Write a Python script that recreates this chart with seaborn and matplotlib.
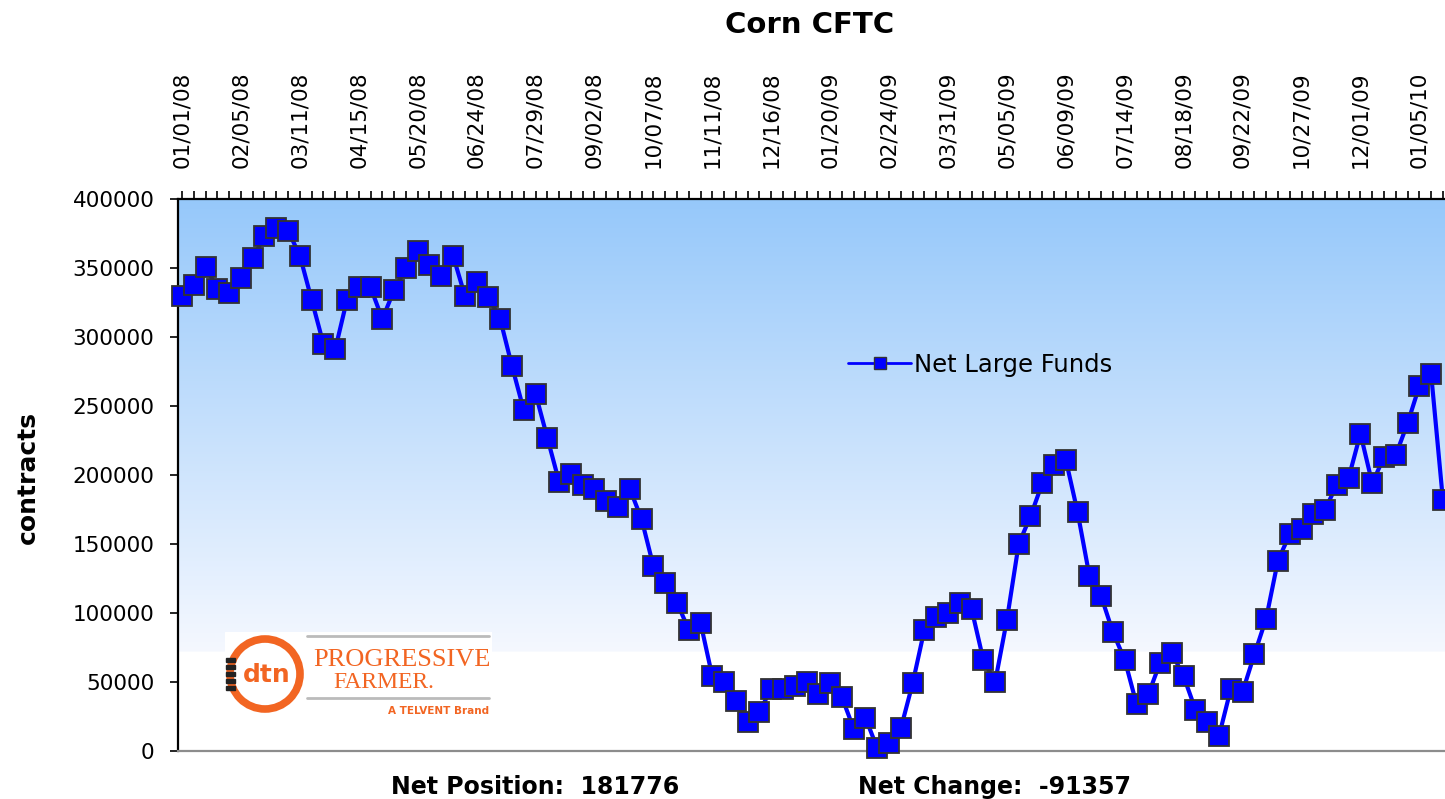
import numpy as np
import pandas as pd
import seaborn as sns
import matplotlib.pyplot as plt
from matplotlib.lines import Line2D
from matplotlib.patches import Circle, Rectangle

# weekly net large fund position, starting 01/01/08
start_date = "2008-01-01"
net_large_funds = [
    330000, 338000, 351000, 335000, 332000, 343000, 357000, 373000, 379000, 377000,
    359000, 327000, 295000, 291000, 327000, 336000, 336000, 313000, 334000, 350000,
    362000, 352000, 344000, 359000, 330000, 340000, 329000, 313000, 279000, 247000,
    259000, 227000, 195000, 201000, 193000, 190000, 181000, 177000, 190000, 168000,
    134000, 121500, 107500, 88000, 93000, 54000, 50000, 36000, 21000, 28500,
    45000, 45000, 47000, 50000, 41000, 49000, 39000, 16000, 24000, 2000,
    5600, 16400, 49000, 88000, 97000, 100000, 107500, 103000, 66000, 50000,
    95000, 150000, 170000, 194000, 207000, 211000, 173000, 127000, 112000, 86000,
    66000, 34000, 41000, 64000, 71000, 54000, 30000, 21000, 11000, 45000,
    43000, 70000, 96000, 138000, 157000, 161000, 172000, 175000, 193000, 198000,
    230000, 194000, 213000, 214500, 237500, 264500, 273133, 181776,
]
net_position = 181776
net_change = -91357

dates = pd.date_range(start_date, periods=len(net_large_funds), freq="7D")
df = pd.DataFrame({"week": np.arange(len(net_large_funds)), "net": net_large_funds})
tick_idx = list(range(0, len(dates), 5))
tick_labels = [dates[i].strftime("%m/%d/%y") for i in tick_idx]

sns.set_style("white")
plt.rcParams["font.family"] = ["DejaVu Sans"]
plt.rcParams["text.color"] = "black"
plt.rcParams["xtick.color"] = "black"
plt.rcParams["ytick.color"] = "black"
plt.rcParams["axes.labelcolor"] = "black"

W, H = 1445, 799
fig = plt.figure(figsize=(W / 100, H / 100), dpi=100)
ax = fig.add_axes([178 / W, (H - 751) / H, (1450 - 178) / W, (751 - 199) / H])

# background gradient: light blue at the top fading to white, plain white at the bottom
n = 400
frac = np.linspace(0, 1, n)
top = np.array([150, 200, 250]) / 255
low = np.array([245, 248, 255]) / 255
cut = 0.179
grad = np.ones((n, 1, 3))
for i, f in enumerate(frac):
    if f >= cut:
        t = (f - cut) / (1 - cut)
        grad[i, 0] = low + (top - low) * t
ax.imshow(grad, extent=[0, 1, 0, 1], transform=ax.transAxes, origin="lower",
          aspect="auto", zorder=0)

sns.lineplot(data=df, x="week", y="net", ax=ax, color="#0000FF", linewidth=3,
             marker="s", markersize=14, markerfacecolor="#0000FF",
             markeredgecolor="#333333", markeredgewidth=1.3, legend=False,
             zorder=3, clip_on=False)

ax.set_xlim(-0.34, len(net_large_funds) - 1 + 0.6)
ax.set_ylim(0, 400000)
ax.set_yticks(np.arange(0, 400001, 50000))
ax.set_yticklabels([str(v) for v in range(0, 400001, 50000)])
ax.xaxis.tick_top()
ax.set_xticks(tick_idx)
ax.set_xticklabels(tick_labels, rotation=90)
ax.set_xticks(np.arange(len(dates)), minor=True)
ax.tick_params(axis="x", which="both", direction="out", length=6, width=1.2,
               color="black", labelcolor="black", pad=16, labelsize=15.5)
ax.tick_params(axis="y", direction="out", length=6, width=1.2, color="black",
               labelcolor="black", pad=11, labelsize=15.5, left=True)
ax.set_xlabel("")
ax.set_ylabel("")

for side in ["top", "left"]:
    ax.spines[side].set_color("black")
    ax.spines[side].set_linewidth(1.6)
ax.spines["bottom"].set_color("#8c8c8c")
ax.spines["bottom"].set_linewidth(1.6)
ax.spines["right"].set_visible(False)

handle = Line2D([], [], color="#0000FF", lw=2, marker="s", markersize=8,
                markerfacecolor="#0000FF", markeredgecolor="#333333", markeredgewidth=1)
leg = fig.legend([handle], ["Net Large Funds"], loc="center left",
                 bbox_to_anchor=(848 / W, 1 - 365 / H), frameon=False, fontsize=17.5,
                 handlelength=2.6, handletextpad=0.1, borderpad=0, borderaxespad=0)
for txt in leg.get_texts():
    txt.set_color("black")

fig.text(810 / W, 1 - 25 / H, "Corn CFTC", ha="center", va="center",
         fontsize=21, fontweight="bold")
fig.text(28 / W, 1 - 477 / H, "contracts", ha="center", va="center",
         rotation=90, fontsize=18, fontweight="bold")
fig.text(535 / W, 1 - 787 / H, f"Net Position:  {net_position}", ha="center",
         va="center", fontsize=17, fontweight="bold")
fig.text(995 / W, 1 - 787 / H, f"Net Change:  {net_change}", ha="center",
         va="center", fontsize=17, fontweight="bold")

# dtn / Progressive Farmer logo
orange = "#F26522"
lg = fig.add_axes([225 / W, (H - 720) / H, (492 - 225) / W, (720 - 632) / H])
lg.set_xlim(0, 267)
lg.set_ylim(0, 88)
lg.set_facecolor("white")
lg.axis("off")
lg.add_patch(Rectangle((0, 0), 267, 88, color="white", zorder=0))
lg.add_patch(Circle((40, 46), 35, fill=False, edgecolor=orange, linewidth=5.5))
for k in range(5):
    lg.add_patch(Rectangle((1, 30 + k * 7), 9, 4, color="#222222", zorder=3))
lg.text(42, 45, "dtn", color=orange, fontsize=18, fontweight="bold",
        ha="center", va="center")
lg.plot([82, 264], [84, 84], color="#bbbbbb", lw=2)
lg.plot([82, 264], [22, 22], color="#bbbbbb", lw=2)
lg.text(88, 60, "PROGRESSIVE", color=orange, family="Liberation Serif",
        fontsize=19, va="center", ha="left")
lg.text(108, 37, "FARMER.", color=orange, family="Liberation Serif",
        fontsize=17, va="center", ha="left")
lg.text(264, 9, "A TELVENT Brand", color=orange, fontsize=7.5,
        fontweight="bold", va="center", ha="right")

fig.savefig("out.png", dpi=100)
